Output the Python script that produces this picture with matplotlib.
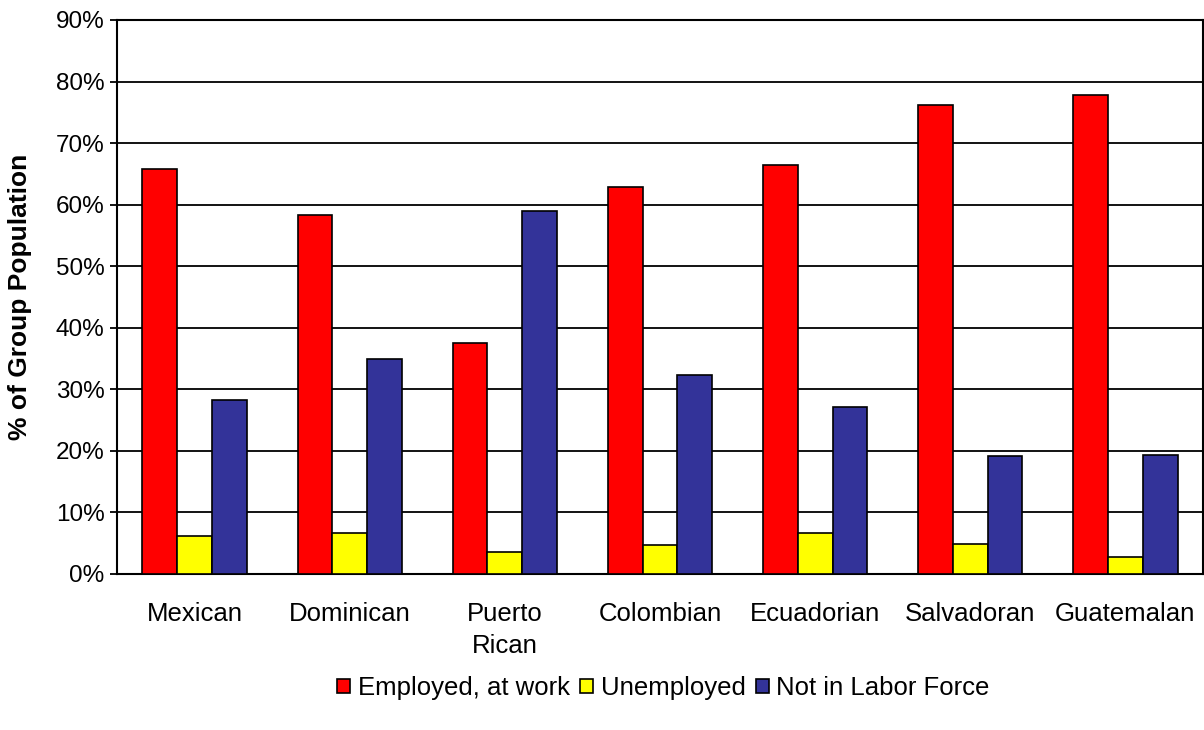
import numpy as np
import matplotlib
matplotlib.use('Agg')
import matplotlib.pyplot as plt
from matplotlib.ticker import PercentFormatter

plt.rcParams['font.family'] = ['Liberation Sans', 'DejaVu Sans']

# Labor force status by origin group (% of group population)
groups = ['Mexican', 'Dominican', 'Puerto\nRican', 'Colombian',
          'Ecuadorian', 'Salvadoran', 'Guatemalan']
employed = [65.8, 58.3, 37.5, 62.9, 66.4, 76.2, 77.8]
unemployed = [6.1, 6.7, 3.5, 4.7, 6.7, 4.8, 2.8]
not_in_lf = [28.2, 35.0, 59.0, 32.4, 27.2, 19.1, 19.4]

series = [('Employed, at work', employed, '#ff0000'),
          ('Unemployed', unemployed, '#ffff00'),
          ('Not in Labor Force', not_in_lf, '#333399')]

fig = plt.figure(figsize=(12.04, 7.30), dpi=100)
ax = fig.add_axes([117/1204, 1-574/730, 1086/1204, 554/730])

x = np.arange(len(groups))
w = 0.224
for i, (name, vals, col) in enumerate(series):
    ax.bar(x + (i-1)*w, vals, w, color=col, edgecolor='black',
           linewidth=1.2, label=name, zorder=3)

ax.set_xlim(-0.5, len(groups)-0.5)
ax.set_ylim(0, 90)
ax.set_yticks(np.arange(0, 91, 10))
ax.yaxis.set_major_formatter(PercentFormatter(decimals=0))
ax.yaxis.grid(True, color='black', linewidth=1.3, zorder=0)
ax.set_xticks(x)
ax.set_xticklabels(groups, fontsize=18.5, linespacing=1.45, va='top')
ax.tick_params(axis='x', length=0, pad=20)
ax.tick_params(axis='y', labelsize=17.5, length=5, width=1.3, pad=4)
for s in ax.spines.values():
    s.set_linewidth(1.5)
ax.set_ylabel('% of Group Population', fontsize=19, fontweight='bold',
              labelpad=17)

fig.legend(loc='center', bbox_to_anchor=(0.551, 1-688/730), ncol=3,
           frameon=False, fontsize=18.5, handlelength=0.5, handleheight=0.5,
           handletextpad=0.3, columnspacing=0.4, borderaxespad=0)

fig.savefig('out.png', dpi=100, facecolor='white')
